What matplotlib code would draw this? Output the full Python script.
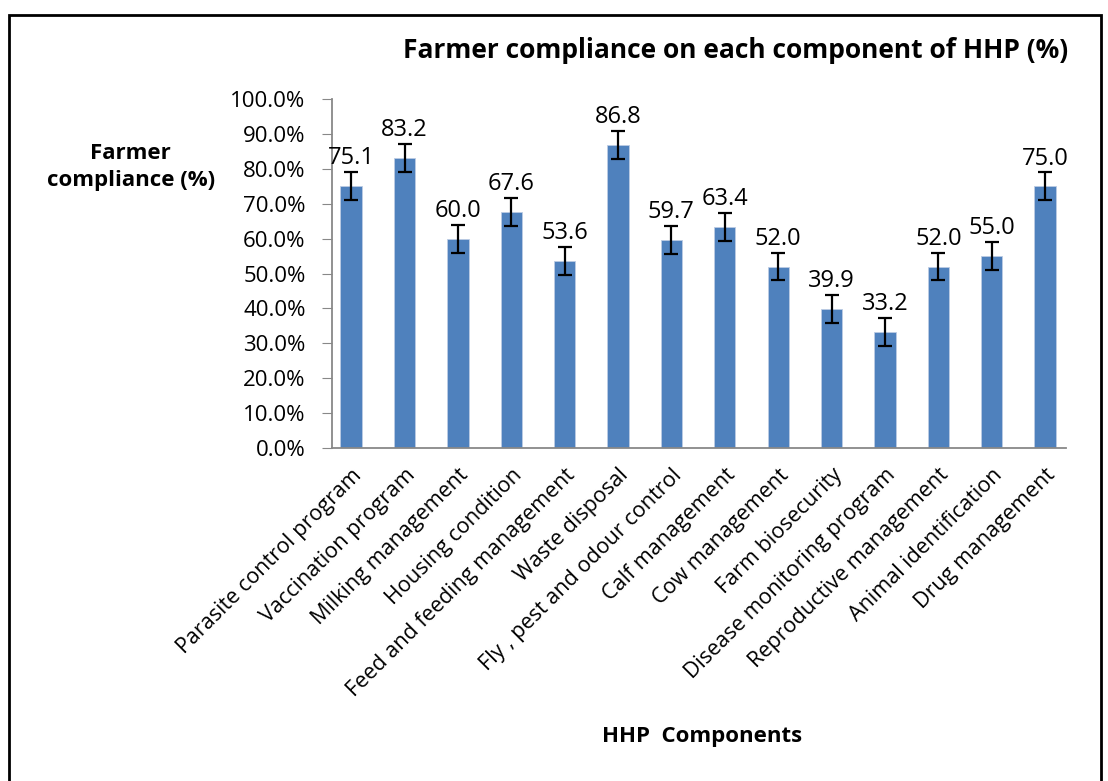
import matplotlib.pyplot as plt
from matplotlib.patches import Rectangle
from matplotlib.ticker import FuncFormatter

components = ["Parasite control program", "Vaccination program", "Milking management",
              "Housing condition", "Feed and feeding management", "Waste disposal",
              "Fly , pest and odour control", "Calf management", "Cow management",
              "Farm biosecurity", "Disease monitoring program", "Reproductive management",
              "Animal identification", "Drug management"]
compliance = [75.1, 83.2, 60.0, 67.6, 53.6, 86.8, 59.7, 63.4, 52.0, 39.9, 33.2, 52.0, 55.0, 75.0]
errors = [4] * 14

plt.rcParams['font.family'] = ['Open Sans', 'DejaVu Sans']

fig = plt.figure(figsize=(11.08, 7.81), dpi=100)
# outer frame (bottom edge lies below the picture)
fig.patches.append(Rectangle((0.0085, -0.05), 0.985, 1.031, transform=fig.transFigure,
                             fill=False, edgecolor='black', linewidth=2))
ax = fig.add_axes([0.2996, 0.4264, 0.6624, 0.4468])

x = range(len(components))
ax.bar(x, compliance, width=0.4, color='#4F81BD', edgecolor='#BCCCE4', linewidth=0.6,
       yerr=errors, capsize=5, error_kw=dict(ecolor='black', elinewidth=1.6, capthick=1.6))
for i, v in enumerate(compliance):
    ax.text(i, v + errors[i] + 0.5, f"{v:.1f}", ha='center', va='bottom', fontsize=17)

ax.set_xlim(-0.36, len(components) - 0.61)
ax.set_ylim(0, 100)
ax.set_yticks(range(0, 101, 10))
ax.yaxis.set_major_formatter(FuncFormatter(lambda v, p: f"{v:.1f}%"))
ax.set_xticks(list(x))
ax.set_xticklabels(components, rotation=45, ha='right', rotation_mode='anchor', fontsize=15.5)
ax.tick_params(axis='y', labelsize=16, color='#888888', length=7, pad=12)
ax.tick_params(axis='x', length=0, pad=12)
for s in ['top', 'right']:
    ax.spines[s].set_visible(False)
for s in ['left', 'bottom']:
    ax.spines[s].set_color('#888888')
    ax.spines[s].set_linewidth(1.3)

fig.text(0.664, 0.935, "Farmer compliance on each component of HHP (%)", ha='center',
         va='center', fontsize=19, fontweight='bold')
fig.text(0.118, 0.786, "Farmer\ncompliance (%)", ha='center', va='center', fontsize=16,
         fontweight='bold', linespacing=1.35)
fig.text(0.634, 0.057, "HHP  Components", ha='center', va='center', fontsize=16,
         fontweight='bold')

fig.savefig("out.png", dpi=100)
